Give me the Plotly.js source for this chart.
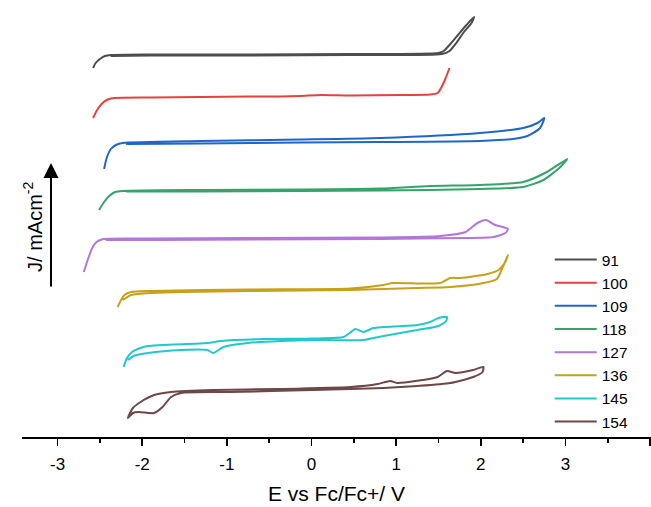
<!DOCTYPE html>
<html><head><meta charset="utf-8">
<script src="https://cdn.plot.ly/plotly-3.0.1.min.js"></script>
<style>html,body{margin:0;padding:0;background:#fff}#chart{width:651px;height:507px}</style>
</head><body><div id="chart"></div>
<script>
var names = ["91","100","109","118","127","136","145","154"];
var colors = ["#4d4d4d","#e8413e","#1f66cc","#35a36a","#b277d9","#c9a019","#23c8cc","#6e4747"];
var tickVals = [-3,-2,-1,0,1,2,3,4];
var tickText = ["-3","-2","-1","0","1","2","3","4"];

var e91 = [-2.58,-2.55,-2.50,-2.44,-2.37,-1.90,-0.72,0.46,1.50,1.56,1.64,1.73,1.83,1.92,1.89,1.80,1.71,1.63,1.54,0.46,-0.72,-1.90,-2.37];
var j91 = [36.9,37.4,37.8,38.1,38.2,38.25,38.25,38.3,38.4,38.6,39.3,40.2,41.2,42.0,41.4,40.5,39.4,38.6,38.3,38.2,38.15,38.15,38.1];

var e100 = [-2.58,-2.54,-2.48,-2.42,-2.33,-1.90,-1.31,-0.72,-0.37,-0.13,0.11,0.46,1.05,1.40,1.49,1.53,1.58,1.63];
var j100 = [31.9,32.6,33.3,33.7,33.9,33.95,34.0,34.05,34.05,34.1,34.2,34.15,34.2,34.25,34.4,34.9,35.8,36.9];

var e109 = [-2.45,-2.42,-2.37,-2.31,-2.23,-1.31,-0.13,0.81,1.99,2.50,2.67,2.75,2.70,2.55,2.38,1.99,0.81,-0.13,-1.31,-2.19];
var j109 = [26.8,27.9,28.8,29.2,29.4,29.6,29.75,29.9,30.4,30.9,31.4,31.9,30.9,30.1,29.8,29.6,29.5,29.45,29.35,29.3];

var e118 = [-2.51,-2.45,-2.39,-2.32,-2.23,-1.31,-0.13,0.81,1.40,1.99,2.50,2.78,3.02,2.94,2.74,2.50,1.99,1.40,0.81,-0.13,-1.31,-2.19];
var j118 = [22.7,23.5,24.1,24.5,24.6,24.7,24.75,24.85,25.1,25.2,25.5,26.5,27.8,27.0,25.7,25.0,24.8,24.7,24.65,24.6,24.55,24.55];

var e127 = [-2.69,-2.64,-2.59,-2.54,-2.46,-1.90,-0.72,0.81,1.52,1.82,1.96,2.06,2.17,2.26,2.32,2.29,2.15,1.79,0.81,-0.72,-1.90,-2.43];
var j127 = [16.5,17.8,18.9,19.5,19.8,19.85,19.9,19.95,20.1,20.5,21.4,21.7,21.2,21.0,20.8,20.4,20.0,19.9,19.8,19.75,19.7,19.7];

var e136 = [-2.29,-2.25,-2.21,-2.13,-1.90,-0.72,0.46,0.85,0.96,1.52,1.64,1.76,2.08,2.21,2.29,2.32,2.26,2.19,2.03,1.64,1.25,0.85,0.46,-0.72,-1.90,-2.13,-2.23];
var j136 = [13.0,13.7,14.2,14.5,14.6,14.75,14.85,15.2,15.4,15.4,15.9,15.9,16.3,16.7,17.5,18.2,17.0,15.8,15.4,15.0,14.9,14.8,14.7,14.6,14.4,14.2,13.7];

var e145 = [-2.22,-2.18,-2.12,-2.02,-1.93,-1.23,-1.07,-0.57,0.02,0.38,0.45,0.52,0.61,0.73,0.85,1.25,1.40,1.50,1.60,
            1.59,1.50,1.25,0.85,0.61,0.02,-0.37,-0.75,-1.04,-1.16,-1.23,-1.54,-1.93,-2.10,-2.17];
var j145 = [7.0,7.9,8.5,8.9,9.1,9.4,9.6,9.8,9.85,10.0,10.4,10.8,10.5,10.9,11.0,11.2,11.5,11.9,12.0,
            11.6,11.1,10.7,10.1,9.7,9.7,9.6,9.4,9.0,8.4,8.7,8.7,8.4,8.1,7.7];

var e154 = [-2.17,-2.11,-2.02,-1.86,-1.66,-1.16,-0.37,0.46,0.78,0.93,1.01,1.49,1.60,1.70,1.91,2.03,
            2.02,1.91,1.64,1.25,0.85,0.46,0.02,-0.96,-1.54,-1.66,-1.76,-1.86,-1.93,-2.04,-2.11,-2.17];
var j154 = [1.9,2.9,3.5,4.2,4.5,4.7,4.8,5.0,5.3,5.6,5.4,6.0,6.6,6.4,6.7,7.0,
            6.5,6.0,5.4,5.1,4.9,4.8,4.7,4.5,4.4,4.0,3.0,2.4,2.4,2.5,2.4,1.9];

var xs = [e91,e100,e109,e118,e127,e136,e145,e154];
var ys = [j91,j100,j109,j118,j127,j136,j145,j154];

var data = names.map(function(n,i){
  return {x: xs[i], y: ys[i], name: n, type:'scatter', mode:'lines',
          line:{color: colors[i], width: 2, shape:'spline', smoothing:0.6}};
});

var layout = {
  width: 651, height: 507,
  margin: {l:22, r:0, t:0, b:70},
  paper_bgcolor:'#fff', plot_bgcolor:'#fff',
  font: {family:'"Liberation Sans", Arial, sans-serif', color:'#000'},
  showlegend: true,
  legend: {x:0.839, y:0.444, xanchor:'left', yanchor:'top', font:{size:15.5, color:'#000'},
           bgcolor:'rgba(0,0,0,0)', itemwidth:42, tracegroupgap:0},
  xaxis: {range:[-3.42, 4.01], showline:true, linecolor:'#000', linewidth:2,
          ticks:'outside', ticklen:7, tickwidth:1.5, tickcolor:'#000',
          tickmode:'array', tickvals:tickVals, ticktext:tickText,
          minor:{dtick:0.5, tick0:0, ticks:'outside', ticklen:4, tickwidth:1.5, tickcolor:'#000'},
          showgrid:false, zeroline:false, tickfont:{size:17}, ticklabelstandoff:4,
          title:{text:'E vs Fc/Fc+/ V', font:{size:21}, standoff:13}},
  yaxis: {visible:false, range:[0, 43.7], fixedrange:true},
  annotations: [
    {xref:'paper', yref:'paper', x:0.0461, y:0.627, ax:0, ay:125, text:'', showarrow:true,
     arrowhead:2, arrowsize:1.5, arrowwidth:2, arrowcolor:'#000'},
    {xref:'paper', yref:'paper', x:-0.006, y:0.48, text:'J/ mAcm<sup>-2</sup>', showarrow:false,
     textangle:-90, font:{size:20, color:'#000'}}
  ]
};
Plotly.newPlot('chart', data, layout, {displayModeBar:false, staticPlot:true});
</script></body></html>
